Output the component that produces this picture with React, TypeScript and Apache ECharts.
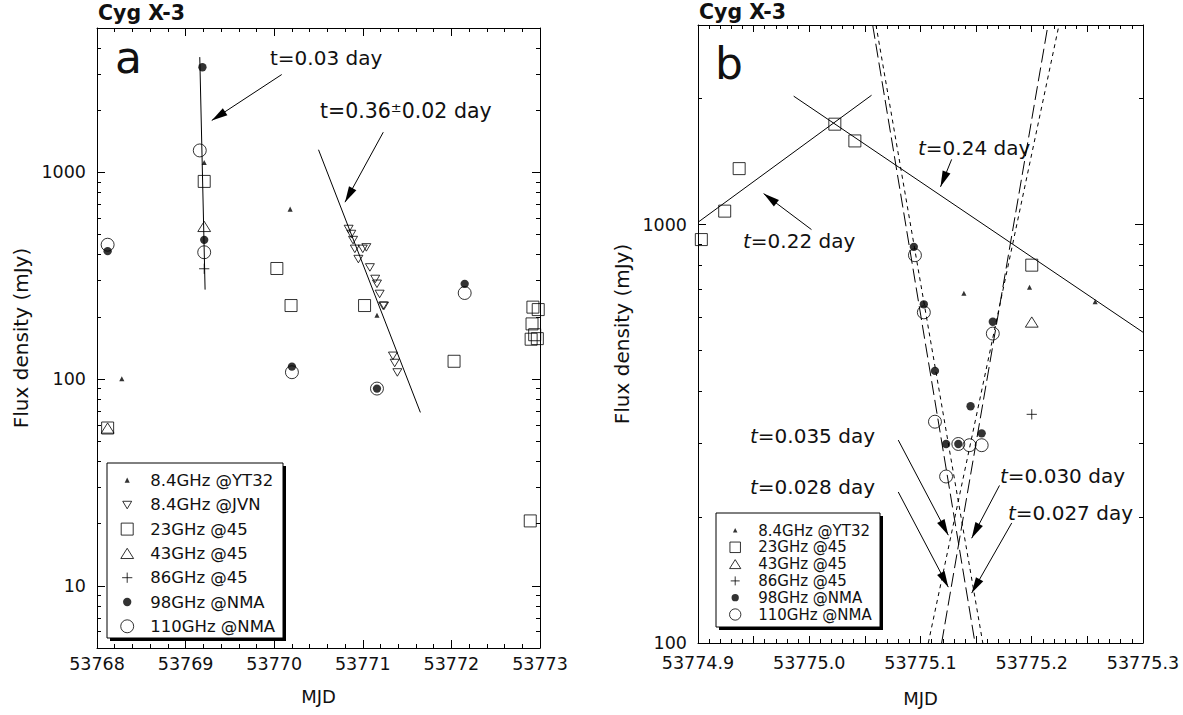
import React, { useEffect, useRef } from 'react';
import * as echarts from 'echarts';

const FONT = '"DejaVu Sans", sans-serif';
const INK = '#111';

// ---------- legend names ----------
const N_YT32 = '8.4GHz @YT32';
const N_JVN = '8.4GHz @JVN';
const N_23 = '23GHz @45';
const N_43 = '43GHz @45';
const N_86 = '86GHz @45';
const N_98 = '98GHz @NMA';
const N_110 = '110GHz @NMA';
const LEGEND_A = [N_YT32, N_JVN, N_23, N_43, N_86, N_98, N_110];
const LEGEND_B = [N_YT32, N_23, N_43, N_86, N_98, N_110];

// ---------- panel a data [MJD, mJy] ----------
const A_YT32 = [[53768.28, 100], [53769.21, 1114], [53770.18, 662], [53771.16, 203]];
const A_JVN = [
  [53770.84, 534], [53770.87, 505], [53770.89, 472], [53770.91, 428], [53770.95, 382],
  [53771.0, 428], [53771.04, 435], [53771.08, 348], [53771.14, 306], [53771.16, 290],
  [53771.19, 259], [53771.23, 227], [53771.24, 227], [53771.34, 130], [53771.36, 120], [53771.39, 108],
];
const A_23 = [
  [53768.12, 58], [53769.21, 905], [53770.03, 343], [53770.19, 227], [53771.02, 227], [53772.03, 122],
  [53772.92, 223], [53772.98, 217], [53772.91, 185], [53772.94, 164], [53772.9, 156], [53772.97, 157],
  [53772.89, 20.6],
];
const A_43 = [[53768.12, 58], [53769.21, 548]];
const A_86 = [[53769.21, 342]];
const A_98 = [[53768.12, 416], [53769.19, 3230], [53769.21, 472], [53770.2, 115], [53771.16, 90], [53772.15, 289]];
const A_110 = [[53768.12, 447], [53769.16, 1278], [53769.21, 411], [53770.2, 108], [53771.16, 90], [53772.15, 261]];
const A_FIT1 = [[53769.16, 3615], [53769.22, 271]];
const A_FIT2 = [[53770.5, 1288], [53771.65, 69]];
const A_ARROWS = [
  [[53770.085, 2977], [53769.295, 1785]],
  [[53771.231, 1566], [53770.799, 718]],
];

// ---------- panel b data ----------
const B_YT32 = [[53775.139, 684], [53775.198, 707], [53775.257, 653]];
const B_23 = [[53774.903, 921], [53774.924, 1077], [53774.937, 1361], [53775.023, 1738], [53775.041, 1585], [53775.2, 800]];
const B_43 = [[53775.2, 585]];
const B_86 = [[53775.2, 352]];
const B_98 = [[53775.094, 885], [53775.103, 645], [53775.113, 447], [53775.123, 299], [53775.134, 299], [53775.145, 368], [53775.155, 317], [53775.165, 586]];
const B_110 = [[53775.095, 845], [53775.103, 617], [53775.113, 338], [53775.123, 250], [53775.134, 299], [53775.144, 297], [53775.155, 297], [53775.165, 549]];
const B_RISE = [[53774.9, 1013], [53775.056, 2038]];
const B_FALL = [[53774.986, 2028], [53775.3, 553]];
const B_DEC_SHORT = [[53775.06, 3000], [53775.156, 100]];
const B_DEC_LONG = [[53775.057, 3000], [53775.149, 100]];
const B_INC_SHORT = [[53775.107, 100], [53775.2245, 3000]];
const B_INC_LONG = [[53775.119, 100], [53775.2146, 3000]];
const B_ARROWS = [
  [[53775.002, 973], [53774.959, 1186]],
  [[53775.128, 1432], [53775.118, 1231]],
  [[53775.08, 305.5], [53775.125, 181]],
  [[53775.08, 229.6], [53775.125, 136]],
  [[53775.171, 238], [53775.146, 178]],
  [[53775.182, 193.6], [53775.146, 131.6]],
];

// ---------- ticks ----------
const A_Y_LABELS = [10, 100, 1000];
const A_Y_MINOR = [6, 7, 8, 9, 20, 30, 40, 50, 60, 70, 80, 90, 200, 300, 400, 500, 600, 700, 800, 900, 2000, 3000, 4000];
const B_Y_LABELS = [100, 1000];
const B_Y_MAJOR = [1000];
const B_Y_MINOR = [200, 300, 400, 500, 600, 700, 800, 900, 2000];

// ---------- symbols (100x100 frame) ----------
const FRAME = 'M0,0M100,100';
const SYM_SQUARE = `path://${FRAME}M12.5,12.5L87.5,12.5L87.5,87.5L12.5,87.5Z`;
const SYM_CIRCLE = `path://${FRAME}M9.5,50A40.5,40.5,0,1,1,90.5,50A40.5,40.5,0,1,1,9.5,50Z`;
const SYM_DOT = `path://${FRAME}M24,50A26,26,0,1,1,76,50A26,26,0,1,1,24,50Z`;
const SYM_SMALLTRI = `path://${FRAME}M50,32L66,64L34,64Z`;
const SYM_TRI = `path://${FRAME}M50,18L90,82L10,82Z`;
const SYM_DTRI = `path://${FRAME}M22,28L78,28L50,75Z`;
const SYM_PLUS = `path://${FRAME}M50,18L50,82M18,50L82,50`;
// arrow head: tip at the centre of a square frame, body behind it
const ARROW = 'path://M-16,-16M16,16M0,0L4.2,16L-4.2,16Z';

function scat(name: string, data: number[][], symbol: string, filled: boolean, xi: number, yi: number) {
  return {
    type: 'scatter',
    name,
    data,
    symbol,
    symbolSize: 16,
    xAxisIndex: xi,
    yAxisIndex: yi,
    silent: true,
    z: 3,
    itemStyle: filled
      ? { color: '#000', borderWidth: 0 }
      : { color: 'rgba(255,255,255,0)', borderColor: '#000', borderWidth: 1 },
  };
}

function fit(data: number[][], xi: number, yi: number, type: any) {
  return {
    type: 'line',
    data,
    xAxisIndex: xi,
    yAxisIndex: yi,
    symbol: 'none',
    silent: true,
    z: 2,
    lineStyle: { color: '#000', width: 1, type },
  };
}

function arrows(list: number[][][], xi: number, yi: number) {
  return {
    type: 'lines',
    coordinateSystem: 'cartesian2d',
    xAxisIndex: xi,
    yAxisIndex: yi,
    symbol: ['none', ARROW],
    symbolSize: 32,
    silent: true,
    z: 4,
    lineStyle: { color: '#000', width: 1, opacity: 1, curveness: 0 },
    data: list.map((c) => ({ coords: c })),
  };
}

const tickTextStyle = { fontFamily: FONT, fontSize: 17.5, color: INK };

function xAxes(gridIndex: number, min: number, max: number, interval: number, fmt: (v: number) => string, majorLen: number, labelMargin: number, nameGap: number) {
  const common = {
    type: 'value',
    gridIndex,
    min,
    max,
    interval,
    splitLine: { show: false },
    axisLine: { show: true, lineStyle: { color: '#000', width: 1 } },
    axisTick: { show: true, inside: true, length: majorLen, lineStyle: { color: '#000' } },
    minorTick: { show: true, splitNumber: 5, length: 4, lineStyle: { color: '#000' } },
  };
  return [
    {
      ...common,
      position: 'bottom',
      name: 'MJD',
      nameLocation: 'middle',
      nameGap,
      nameTextStyle: { fontFamily: FONT, fontSize: 18, color: INK },
      axisLabel: { ...tickTextStyle, margin: labelMargin, formatter: fmt },
    },
    { ...common, position: 'top', axisLabel: { show: false } },
  ];
}

function yAxes(gridIndex: number, min: number, max: number, labels: number[], major: number[], minor: number[]) {
  const base = {
    type: 'log',
    logBase: 10,
    gridIndex,
    min,
    max,
    splitLine: { show: false },
    minorTick: { show: false },
  };
  const mk = (position: string, ticks: number[], len: number, withLine: boolean, withLabel: boolean) => ({
    ...base,
    position,
    offset: 0,
    axisLine: { show: withLine, lineStyle: { color: '#000', width: 1 } },
    axisTick: { show: true, inside: true, length: len, customValues: ticks, lineStyle: { color: '#000' } },
    axisLabel: withLabel
      ? { ...tickTextStyle, margin: 11, customValues: labels, formatter: (v: number) => String(Math.round(v)) }
      : { show: false },
    ...(withLabel
      ? {
          name: 'Flux density (mJy)',
          nameLocation: 'middle',
          nameGap: 66,
          nameRotate: 90,
          nameTextStyle: { fontFamily: FONT, fontSize: 20, color: INK },
        }
      : {}),
  });
  return [
    mk('left', major, 8, true, true),
    mk('left', minor, 4, false, false),
    mk('right', major, 8, true, false),
    mk('right', minor, 4, false, false),
  ];
}

function legendBox(x: number, y: number, w: number, h: number) {
  return [
    { type: 'rect', shape: { x: x + 3, y: y + 3, width: w, height: h }, style: { fill: '#000' }, silent: true },
    { type: 'rect', shape: { x, y, width: w, height: h }, style: { fill: '#fff', stroke: '#000', lineWidth: 1 }, silent: true },
  ];
}

function txt(x: number, y: number, text: string, size: number, extra: any = {}) {
  return {
    type: 'text',
    x,
    y,
    silent: true,
    style: {
      text,
      fontFamily: FONT,
      fontSize: size,
      fill: INK,
      verticalAlign: 'middle',
      align: 'left',
      ...extra,
    },
  };
}

const italicT = { rich: { i: { fontStyle: 'italic', fontFamily: FONT, fontSize: 20, fill: INK } } };

export default function App() {
  const ref = useRef<HTMLDivElement>(null);
  useEffect(() => {
    if (!ref.current) return;
    const chart = echarts.init(ref.current, undefined, { renderer: 'svg' });
    const fmtA = (v: number) => String(Math.round(v));
    const fmtB = (v: number) => (Math.abs(Math.round(v * 10) - v * 10) < 1e-6 ? v.toFixed(1) : '');
    const option: any = {
      animation: false,
      backgroundColor: '#fff',
      grid: [
        { left: 97, top: 28, width: 443, height: 620 },
        { left: 698, top: 25, width: 445, height: 618 },
      ],
      xAxis: [
        ...xAxes(0, 53768, 53773, 1, fmtA, 8, 7, 39),
        ...xAxes(1, 53774.9, 53775.3, 0.05, fmtB, 7, 11, 46),
      ],
      yAxis: [
        ...yAxes(0, 5, 5000, A_Y_LABELS, A_Y_LABELS, A_Y_MINOR),
        ...yAxes(1, 100, 3000, B_Y_LABELS, B_Y_MAJOR, B_Y_MINOR),
      ],
      legend: [
        {
          orient: 'vertical',
          left: 118.7,
          top: 472,
          padding: 0,
          itemWidth: 36,
          itemHeight: 16,
          itemGap: 7.3,
          selectedMode: false,
          data: LEGEND_A,
          itemStyle: { borderWidth: 1 },
          textStyle: { fontFamily: FONT, fontSize: 16.5, color: INK, lineHeight: 16 },
        },
        {
          orient: 'vertical',
          left: 727.7,
          top: 523,
          padding: 0,
          itemWidth: 36,
          itemHeight: 14,
          itemGap: 1.8,
          selectedMode: false,
          data: LEGEND_B,
          itemStyle: { borderWidth: 1 },
          textStyle: { fontFamily: FONT, fontSize: 15, color: INK, lineHeight: 14 },
        },
      ],
      graphic: [
        ...legendBox(107, 463, 176, 175),
        ...legendBox(716, 513, 164, 114),
        txt(98, 13, 'Cyg X-3', 20.5, { fontWeight: 'bold' }),
        txt(699, 12, 'Cyg X-3', 20.5, { fontWeight: 'bold' }),
        txt(115, 57, 'a', 44),
        txt(715, 63, 'b', 44),
        txt(270, 58, 't=0.03 day', 20),
        txt(320, 111, 't=0.36{p|±}0.02 day', 20.5, { rich: { p: { fontSize: 13, fontFamily: FONT, fill: INK, padding: [0, 0, 7, 0] } } }),
        txt(918, 148, '{i|t}=0.24 day', 20, italicT),
        txt(743, 241, '{i|t}=0.22 day', 20, italicT),
        txt(750, 436, '{i|t}=0.035 day', 20, italicT),
        txt(750, 487, '{i|t}=0.028 day', 20, italicT),
        txt(1000, 476, '{i|t}=0.030 day', 20, italicT),
        txt(1008, 513, '{i|t}=0.027 day', 20, italicT),
      ],
      series: [
        fit(A_FIT1, 0, 0, 'solid'),
        fit(A_FIT2, 0, 0, 'solid'),
        arrows(A_ARROWS, 0, 0),
        scat(N_YT32, A_YT32, SYM_SMALLTRI, true, 0, 0),
        scat(N_JVN, A_JVN, SYM_DTRI, false, 0, 0),
        scat(N_23, A_23, SYM_SQUARE, false, 0, 0),
        scat(N_43, A_43, SYM_TRI, false, 0, 0),
        scat(N_86, A_86, SYM_PLUS, false, 0, 0),
        scat(N_110, A_110, SYM_CIRCLE, false, 0, 0),
        scat(N_98, A_98, SYM_DOT, true, 0, 0),

        fit(B_RISE, 2, 4, 'solid'),
        fit(B_FALL, 2, 4, 'solid'),
        fit(B_DEC_SHORT, 2, 4, [4, 4]),
        fit(B_DEC_LONG, 2, 4, [14, 5]),
        fit(B_INC_SHORT, 2, 4, [4, 4]),
        fit(B_INC_LONG, 2, 4, [14, 5]),
        arrows(B_ARROWS, 2, 4),
        scat(N_YT32, B_YT32, SYM_SMALLTRI, true, 2, 4),
        scat(N_23, B_23, SYM_SQUARE, false, 2, 4),
        scat(N_43, B_43, SYM_TRI, false, 2, 4),
        scat(N_86, B_86, SYM_PLUS, false, 2, 4),
        scat(N_110, B_110, SYM_CIRCLE, false, 2, 4),
        scat(N_98, B_98, SYM_DOT, true, 2, 4),
      ],
    };
    chart.setOption(option);
    return () => chart.dispose();
  }, []);
  return (
    <div
      ref={ref}
      style={{ position: 'fixed', left: 0, top: 0, width: 1183, height: 715, background: '#fff' }}
    />
  );
}
